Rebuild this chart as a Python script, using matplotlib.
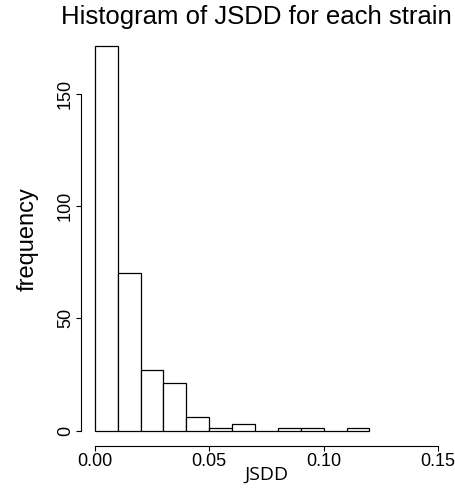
import numpy as np
import matplotlib.pyplot as plt

# histogram of JSDD, bin width 0.01
bin_left = [0.00, 0.01, 0.02, 0.03, 0.04, 0.05, 0.06, 0.07, 0.08, 0.09, 0.10, 0.11]
counts = [171, 70, 27, 21, 6, 1, 3, 0, 1, 1, 0, 1]
bin_width = 0.01
x_ticks = [0.00, 0.05, 0.10, 0.15]
x_ticklabels = ['0.00', '0.05', '0.10', '0.15']
y_ticks = [0, 50, 100, 150]

plt.rcParams['font.family'] = ['Liberation Sans', 'DejaVu Sans']

fig = plt.figure(figsize=(4.55, 4.91), dpi=100)
ax = fig.add_axes([0.178, 0.0916, 0.815, 0.845])

ax.bar(bin_left, counts, width=bin_width, align='edge',
       facecolor='white', edgecolor='black', linewidth=0.9)

# R style: 4% padding around the data range
ax.set_xlim(0 - 0.15 * 0.04, 0.15 * 1.04)
ax.set_ylim(-171 * 0.04, 171 * 1.04)

for side in ['top', 'right']:
    ax.spines[side].set_visible(False)
ax.spines['bottom'].set_bounds(0, 0.15)
ax.spines['left'].set_bounds(0, 150)
ax.spines['bottom'].set_linewidth(0.8)
ax.spines['left'].set_linewidth(0.8)

ax.set_xticks(x_ticks)
ax.set_xticklabels(x_ticklabels)
ax.set_yticks(y_ticks)
ax.set_yticklabels([str(v) for v in y_ticks], rotation=90, va='center')
ax.tick_params(axis='both', direction='out', length=3.5, width=0.8,
               labelsize=13, pad=1.5)

ax.set_xlabel('JSDD', fontsize=14, family=['Open Sans', 'DejaVu Sans'], labelpad=-3)
ax.set_ylabel('frequency', fontsize=17, labelpad=13)
fig.suptitle('Histogram of JSDD for each strain', fontsize=18.5, x=0.564, y=0.99)

fig.savefig('out.png', dpi=100)
